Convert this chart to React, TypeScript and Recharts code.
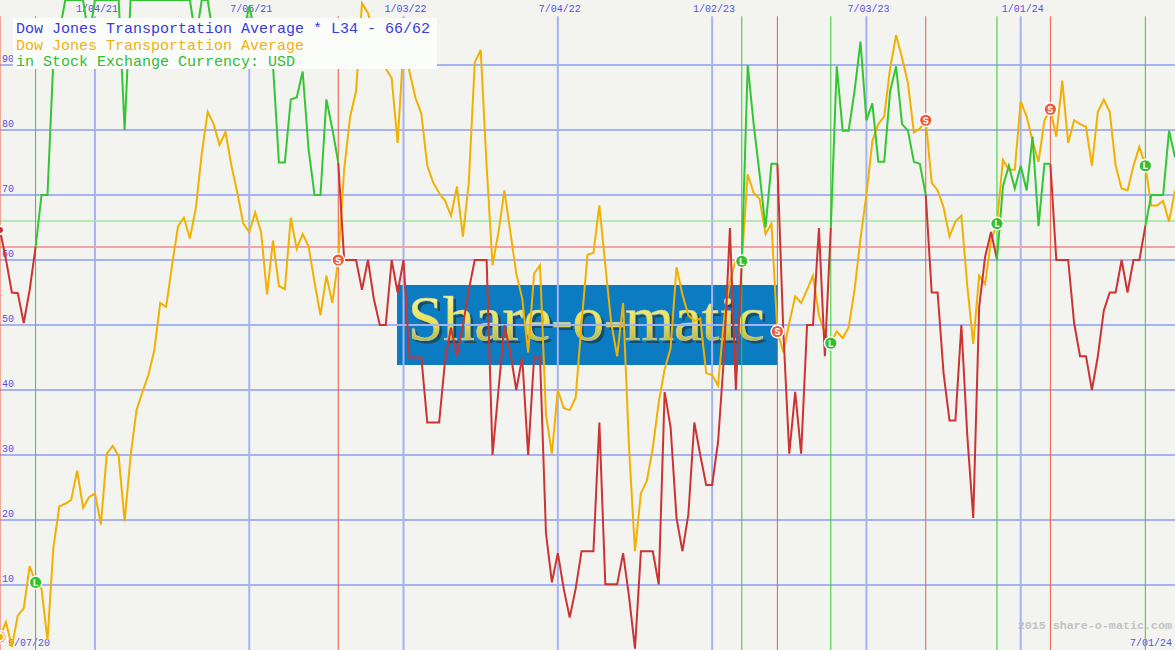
import React from 'react';
import { LineChart, Line, XAxis, YAxis, ReferenceLine, ReferenceDot } from 'recharts';

const W = 1175;
const H = 650;

// weekly points, week 1 = 9/07/20 ... week 199 = 7/01/24
const weeks: number[] = Array.from({ length: 199 }, (_, i) => i + 1);

// Dow Jones Transportation Average (scaled 0-100 on this chart)
const price: number[] = [
  2, 4.3, 0.5, 5.3, 6.4, 12.9, 10.4, 9.4, 1.5, 15.8,
  22.1, 22.5, 23.1, 27.6, 21.9, 23.5, 24.1, 19.3, 30.2, 31.4,
  29.8, 19.8, 29.8, 36.9, 39.7, 42.3, 46.1, 53.4, 52.8, 59.2,
  65.2, 66.5, 63.3, 68, 76.4, 82.8, 80.9, 77.7, 79.7, 74.5,
  70.3, 65.6, 64.3, 67.3, 64.3, 54.7, 63, 56, 55.5, 66.5,
  61.7, 64, 62.1, 56.6, 51.5, 57.6, 53.4, 60, 74, 82,
  86, 99.5, 98, 95, 93, 89.5, 88, 78, 93, 89,
  85, 82.5, 74.5, 71.9, 70.3, 69.1, 66.8, 71.3, 63.6, 72,
  90.4, 92.3, 74.5, 59.2, 64.3, 70.7, 64.3, 57.9, 54.1, 45.8,
  57.9, 59.2, 36.2, 30.2, 40, 37.2, 36.9, 38.8, 50.3, 60.8,
  61.1, 68.4, 59.2, 50.3, 45.2, 53.4, 31.1, 15.2, 24.1, 26,
  31.1, 38.1, 43.2, 46.4, 58.9, 54.7, 51.5, 50.6, 51, 42.6,
  42.3, 40.7, 50.9, 56.6, 60.1, 59.8, 73.2, 70.3, 69.4, 64,
  65.6, 49, 45.8, 50.3, 54.4, 53.4, 55.4, 57.6, 51.5, 48.7,
  47.2, 49, 48, 49.6, 55.4, 63.3, 70, 78.3, 80.9, 82.1,
  89.5, 94.6, 91.1, 87.2, 79.6, 80.2, 81.5, 71.9, 70.7, 68.1,
  63.6, 65.9, 66.8, 56, 47.1, 57.6, 56.3, 63, 65.6, 75.4,
  73.9, 73.9, 84.4, 82.1, 78.3, 75.1, 81.5, 83.2, 79, 87.6,
  78, 81.5, 80.9, 80.5, 74.5, 82.8, 84.7, 82.8, 74.5, 71,
  70.7, 74.5, 77.4, 74.5, 68.4, 68.4, 69.1, 65.9, 70.7,
];

// L34 indicator
const indicator: number[] = [
  64.6, 60.1, 55, 54.9, 50.3, 55.4, 62, 70, 70, 91,
  95, 100, 100, 100, 100, 94, 100, 100, 100, 100,
  100, 80, 100, 100, 100, 100, 100, 100, 100, 100,
  100, 100, 100, 94, 100, 100, 94, 93, 92, 92,
  93, 95, 99, 95, 93, 92, 90, 75, 75, 84.7,
  85, 89, 77, 70, 70, 84.7, 80.2, 75, 60, 60,
  60, 55.4, 60, 54, 50, 50, 60, 55, 60, 45,
  45, 45, 35, 35, 35, 44.5, 49.6, 45.2, 49.9, 55.4,
  60, 60, 60, 30, 40, 50, 45.8, 40, 45, 30,
  45, 45, 18, 10.4, 14.9, 9.4, 5, 9.4, 15.2, 15.2,
  15.2, 35, 10.1, 10.1, 10.1, 14.9, 8.2, 0.2, 15.2, 15.2,
  15.2, 10.1, 39.7, 34.3, 20.3, 15.2, 20.9, 35, 30, 25.4,
  25.4, 32, 45.2, 64.9, 40, 60, 90, 80.9, 73.2, 65,
  74.8, 74.8, 49, 30.2, 39.7, 30.2, 50, 50, 64.9, 45.2,
  65, 89.8, 79.9, 79.9, 86, 93.6, 81.5, 84.1, 75.1, 75.1,
  86, 89.8, 80.9, 79.9, 75.1, 74.8, 70, 55, 55, 42.6,
  35.3, 35.3, 50, 33, 20.3, 52.8, 60.5, 64.3, 60.1, 71.3,
  74.5, 71, 74.5, 70.7, 79, 65.2, 74.8, 74.8, 60, 60,
  60, 50.3, 45.2, 45.2, 40, 45.2, 52.2, 55, 55, 60,
  55, 60, 60, 65.2, 70, 70, 70, 79.9, 75.8,
];

const signalWeeks: number[] = [1, 7, 58, 126, 132, 141, 157, 169, 178, 194];
const signalTypes: string[] = ['S', 'L', 'S', 'L', 'S', 'L', 'S', 'L', 'S', 'L'];

const gridWeeks: number[] = [17, 43, 69, 95, 121, 147, 173];
const gridLabels: string[] = ['1/04/21', '7/05/21', '1/03/22', '7/04/22', '1/02/23', '7/03/23', '1/01/24'];
const startLabel = '9/07/20';
const endLabel = '7/01/24';

const yTicks: number[] = [10, 20, 30, 40, 50, 60, 70, 80, 90];
const buyLevel = 66;
const sellLevel = 62;
const gridTop = 97.5;

const stateAt = (w: number): string => {
  let s = '';
  for (let i = 0; i < signalWeeks.length; i++) if (signalWeeks[i] <= w) s = signalTypes[i];
  return s;
};

const data = weeks.map((w, i) => {
  const st = stateAt(w);
  const prev = stateAt(w - 1);
  const isSig = signalWeeks.includes(w);
  const red = st === 'S' || (isSig && prev === 'S') ? indicator[i] : null;
  const green = st === 'L' || (isSig && prev === 'L') ? indicator[i] : null;
  return { w, price: price[i], red, green };
});

const MONO = '"Liberation Mono", "DejaVu Sans Mono", monospace';
const BLUE = '#5252e4';
const GRID = '#a6b3f2';

const topLabel = (text: string) => (props: any) => {
  const vb = props.viewBox || {};
  return (
    <text x={(vb.x || 0) + 2} y={12} textAnchor="middle" fontFamily={MONO} fontSize={10} fill={BLUE}>
      {text}
    </text>
  );
};

const yLabel = (t: number) => (props: any) => {
  const vb = props.viewBox || {};
  return (
    <text x={2} y={(vb.y || 0) - 3} fontFamily={MONO} fontSize={10} fill={BLUE}>
      {t}
    </text>
  );
};

const markerShape = (type: string) => (props: any) => {
  const { cx, cy } = props;
  const fill = type === 'S' ? '#f0583a' : '#30c030';
  return (
    <g>
      <circle cx={cx} cy={cy} r={7} fill="#ffffff" />
      <circle cx={cx} cy={cy} r={5.6} fill={fill} />
      <text x={cx} y={cy + 3.6} textAnchor="middle" fontSize={10} fontWeight="bold" fontFamily={MONO} fill="#ffffff">
        {type}
      </text>
    </g>
  );
};

export default function App() {
  return (
    <div style={{ position: 'absolute', left: 0, top: 0, width: W, height: H, background: '#f3f4f0', overflow: 'hidden' }}>
      <svg width={W} height={H} style={{ position: 'absolute', left: 0, top: 0 }}>
        <defs>
          <linearGradient id="wmGrad" x1="0" y1="0" x2="0" y2="1">
            <stop offset="0%" stopColor="#ffffa8" />
            <stop offset="55%" stopColor="#e8e050" />
            <stop offset="100%" stopColor="#9c9a48" />
          </linearGradient>
        </defs>
        <rect x={397} y={285} width={381} height={80} fill="#0b7cc2" />
        <text x={411} y={343} fontFamily='"Liberation Serif", serif' fontSize={63} fill="#1c3f48" opacity={0.75}>
          Share-o-matic
        </text>
        <text x={408} y={340} fontFamily='"Liberation Serif", serif' fontSize={63} fill="url(#wmGrad)" stroke="#c8d0b0" strokeWidth={0.6}>
          Share-o-matic
        </text>
        <text x={1172} y={629} textAnchor="end" fontFamily={MONO} fontSize={11.7} fontWeight="bold" fill="#c2c2c2">
          2015 share-o-matic.com
        </text>
        <text x={8} y={646} fontFamily={MONO} fontSize={10} fill={BLUE}>
          {startLabel}
        </text>
        <text x={1172} y={646} textAnchor="end" fontFamily={MONO} fontSize={10} fill={BLUE}>
          {endLabel}
        </text>
      </svg>
      <div style={{ position: 'absolute', left: 0, top: 0 }}>
        <LineChart width={W} height={H} data={data} margin={{ top: 0, right: 0, bottom: 0, left: 0 }}>
          <XAxis dataKey="w" type="number" domain={[1, 199]} hide />
          <YAxis type="number" domain={[0, 100]} hide />
          {yTicks.map((t) => (
            <ReferenceLine key={'y' + t} y={t} stroke={GRID} strokeWidth={2} label={yLabel(t)} />
          ))}
          {gridWeeks.map((w, i) => (
            <ReferenceLine
              key={'g' + w}
              segment={[{ x: w, y: 0 }, { x: w, y: gridTop }]}
              stroke={GRID}
              strokeWidth={2}
              label={topLabel(gridLabels[i])}
            />
          ))}
          <ReferenceLine y={buyLevel} stroke="#9fe69f" strokeWidth={1.5} />
          <ReferenceLine y={sellLevel} stroke="#f2a4a4" strokeWidth={2} />
          {signalWeeks.map((w, i) => (
            <ReferenceLine
              key={'s' + w}
              segment={[{ x: w, y: 0 }, { x: w, y: gridTop }]}
              stroke={signalTypes[i] === 'S' ? '#ec5a40' : '#2ecc2e'}
              strokeWidth={1}
            />
          ))}
          <Line type="linear" dataKey="price" stroke="#f2b000" strokeWidth={2} dot={false} isAnimationActive={false} />
          <Line type="linear" dataKey="red" stroke="#cc3333" strokeWidth={2} dot={false} isAnimationActive={false} />
          <Line type="linear" dataKey="green" stroke="#33c633" strokeWidth={2} dot={false} isAnimationActive={false} />
          {signalWeeks.map((w, i) => (
            <ReferenceDot
              key={'d' + w}
              x={w}
              y={price[w - 1]}
              r={7}
              shape={markerShape(signalTypes[i])}
            />
          ))}
        </LineChart>
      </div>
      <svg width={W} height={H} style={{ position: 'absolute', left: 0, top: 0, pointerEvents: 'none' }}>
        <rect x={13} y={18} width={424} height={51} fill="#fbfdfb" />
        <text x={16} y={33} fontFamily={MONO} fontSize={15} fill="#3a3ae0">
          Dow Jones Transportation Average * L34 - 66/62
        </text>
        <text x={16} y={49.5} fontFamily={MONO} fontSize={15} fill="#f0b010">
          Dow Jones Transportation Average
        </text>
        <text x={16} y={65.5} fontFamily={MONO} fontSize={15} fill="#33bb33">
          in Stock Exchange Currency: USD
        </text>
      </svg>
    </div>
  );
}
